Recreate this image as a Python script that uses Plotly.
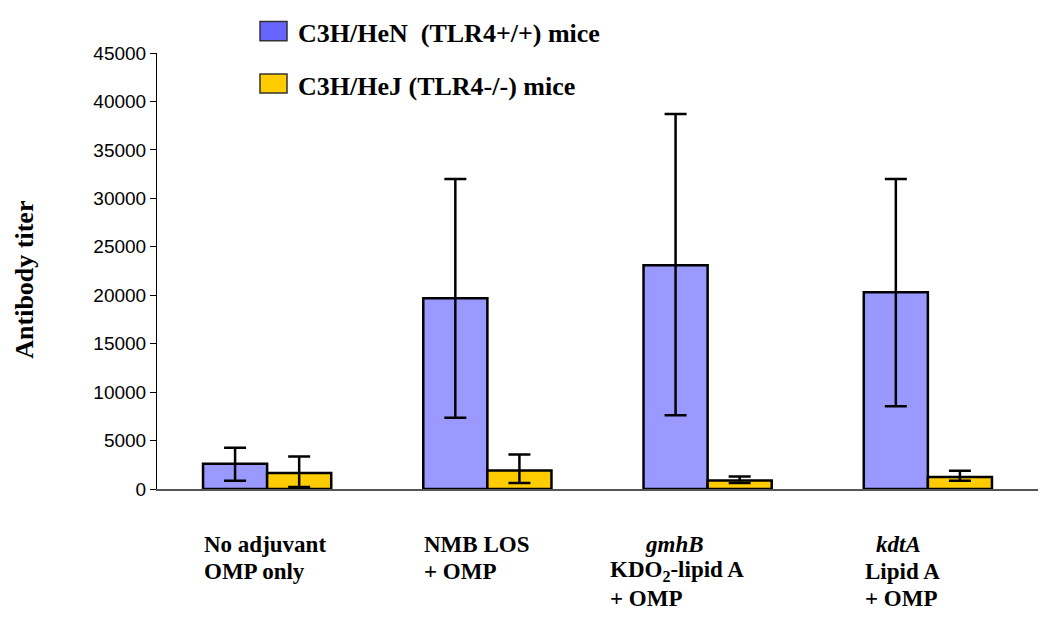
import plotly.graph_objects as go

# Groups along the x axis
groups = ["No adjuvant OMP only", "NMB LOS + OMP", "gmhB KDO2-lipid A + OMP", "kdtA Lipid A + OMP"]
group_lines = [
    ["No adjuvant", "OMP only"],
    ["NMB LOS", "+ OMP"],
    ["<i>gmhB</i>", "KDO<sub>2</sub>-lipid A", "+ OMP"],
    ["<i>kdtA</i>", "Lipid A", "+ OMP"],
]

# Mean antibody titers and error bars
hen_name = "C3H/HeN  (TLR4+/+) mice"
hen_titer = [2600, 19700, 23100, 20300]
hen_err_up = [1650, 12300, 15600, 11700]
hen_err_down = [1750, 12350, 15500, 11750]

hej_name = "C3H/HeJ (TLR4-/-) mice"
hej_titer = [1650, 1920, 890, 1240]
hej_err_up = [1700, 1650, 410, 650]
hej_err_down = [1450, 1300, 270, 380]

y_ticks = list(range(0, 45001, 5000))

serif = "Liberation Serif, Times New Roman, serif"
sans = "Liberation Sans, Arial, sans-serif"

fig = go.Figure()
for name, vals, up, down, col in [
    (hen_name, hen_titer, hen_err_up, hen_err_down, "#9999FF"),
    (hej_name, hej_titer, hej_err_up, hej_err_down, "#FFCC00"),
]:
    fig.add_trace(go.Bar(
        x=groups, y=vals, name=name,
        marker=dict(color=col, line=dict(color="black", width=2.5)),
        error_y=dict(type="data", symmetric=False, array=up, arrayminus=down,
                     color="black", thickness=2.5, width=11),
        showlegend=False,
    ))

# category labels under the axis, one annotation per line
line_h = 27
for i, lines in enumerate(group_lines):
    for j, txt in enumerate(lines):
        dx = -65
        if i == 2 and j > 0:
            dx = -100
        if i == 3 and j == 0:
            dx = -54
        fig.add_annotation(
            x=groups[i], xref="x", y=0, yref="y", text="<b>" + txt + "</b>", showarrow=False,
            xanchor="left", yanchor="middle", xshift=dx, yshift=-55 - line_h * j,
            font=dict(family=serif, size=23, color="black"),
        )

# legend drawn as boxes + text
legend_cols = ["#6666FF", "#FFCC00"]
for k, (name, col) in enumerate(zip([hen_name, hej_name], legend_cols)):
    y0 = 1.05 - k * 0.12
    fig.add_shape(type="rect", xref="paper", yref="paper",
                  x0=(260 - 157) / 881, x1=(287 - 157) / 881,
                  y0=y0 - 0.022, y1=y0 + 0.022,
                  fillcolor=col, line=dict(color="#333333", width=1.5))
    fig.add_annotation(x=(296 - 157) / 881, xref="paper", y=y0 - 0.006, yref="paper",
                       text="<b>" + name.replace("  ", "&nbsp; ") + "</b>", showarrow=False,
                       xanchor="left", yanchor="middle",
                       font=dict(family=serif, size=26, color="black"))

# y axis title
fig.add_annotation(x=(25 - 157) / 881, xref="paper", y=0.48, yref="paper",
                   text="<b>Antibody titer</b>", textangle=-90, showarrow=False,
                   xanchor="center", yanchor="middle",
                   font=dict(family=serif, size=26, color="black"))

# page body adds an 8px offset, so margins are trimmed by that amount
fig.update_layout(
    width=1050, height=620,
    margin=dict(l=149, r=20, t=45, b=139, autoexpand=False),
    plot_bgcolor="white", paper_bgcolor="white",
    barmode="group", bargap=0.418, bargroupgap=0,
    xaxis=dict(showticklabels=False, ticks="", showgrid=False, automargin=False,
               showline=True, linecolor="#555555", linewidth=2),
    yaxis=dict(range=[0, 45000], tickvals=y_ticks, ticktext=[str(v) for v in y_ticks],
               ticks="outside", ticklen=6, automargin=False,
               tickcolor="black", showgrid=False, zeroline=False,
               showline=True, linecolor="black", linewidth=1,
               tickfont=dict(family=sans, size=19, color="black")),
)

fig.write_html("out.html")
